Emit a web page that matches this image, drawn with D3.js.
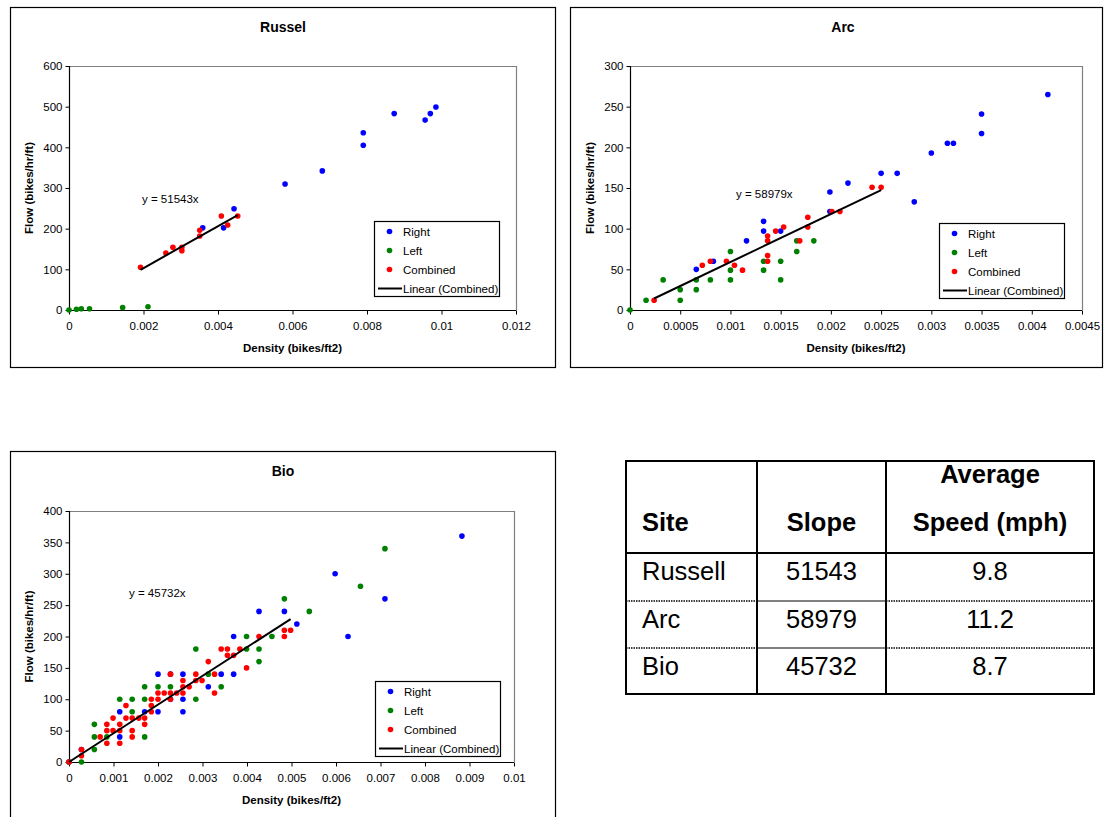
<!DOCTYPE html>
<html>
<head>
<meta charset="utf-8">
<style>
    body { margin: 0; background: white; }
    svg { display: block; font-family: "Liberation Sans", Arial, sans-serif; }
    .frame { fill: white; stroke: black; stroke-width: 1.2; }
    .title { font-size: 14px; font-weight: bold; text-anchor: middle; }
    .axtitle { font-size: 11.5px; font-weight: bold; text-anchor: middle; }
    .tick text { font-size: 11.5px; font-family: "Liberation Sans", Arial, sans-serif; }
    .legend text, .eq { font-size: 11.5px; }
    .tbl { font-size: 25.5px; }
</style>
</head>
<body>
<svg id="view" width="1105" height="817"></svg>

<script src="https://cdnjs.cloudflare.com/ajax/libs/d3/7.8.5/d3.min.js"></script>
<script>
    // ---- data ----
    const sites = ['Russel', 'Arc', 'Bio'];
    const slopes = [51543, 58979, 45732];
    const seriesNames = ['Right', 'Left', 'Combined'];
    const seriesColours = ['#0000ff', '#008000', '#ff0000'];

    const russelX = [0, 0.002, 0.004, 0.006, 0.008, 0.01, 0.012];
    const russelY = [0, 100, 200, 300, 400, 500, 600];
    const arcX = [0, 0.0005, 0.001, 0.0015, 0.002, 0.0025, 0.003, 0.0035, 0.004, 0.0045];
    const arcY = [0, 50, 100, 150, 200, 250, 300];
    const bioX = [0, 0.001, 0.002, 0.003, 0.004, 0.005, 0.006, 0.007, 0.008, 0.009, 0.01];
    const bioY = [0, 50, 100, 150, 200, 250, 300, 350, 400];

    const russelRight = [[0.00359,202],[0.00415,202],[0.00443,249],[0.0058,310],[0.0068,342],
        [0.0079,405],[0.0079,436],[0.00873,483],[0.00956,467],[0.0097,483],[0.00985,499]];
    const russelLeft = [[0,0],[0.0002,2],[0.00033,3],[0.00055,3],[0.00144,6],[0.00212,8]];
    const russelCombined = [[0.00192,105],[0.0026,140],[0.00279,154],[0.00303,154],[0.00303,146],
        [0.00351,196],[0.00351,182],[0.00409,231],[0.00426,209],[0.00453,231]];

    const arcRight = [[0.00066,50],[0.00083,60],[0.00116,85],[0.00133,109],[0.00133,97],[0.0015,97],
        [0.00199,145],[0.00199,121],[0.00217,156],[0.0025,168],[0.00266,168],[0.00283,133],
        [0.003,193],[0.00316,205],[0.00322,205],[0.0035,241],[0.0035,217],[0.00416,265]];
    const arcLeft = [[0,0],[0.00016,12],[0.00033,37],[0.0005,25],[0.0005,12],[0.00066,37],[0.00066,25],
        [0.0008,37],[0.001,72],[0.001,49],[0.001,37],[0.00133,60],[0.00133,49],[0.0015,60],
        [0.0015,37],[0.00166,85],[0.00166,72],[0.00183,85]];
    const arcCombined = [[0.00024,12],[0.00072,55],[0.0008,60],[0.00096,60],[0.00104,55],[0.00112,49],
        [0.00137,91],[0.00137,85],[0.00137,67],[0.00137,60],[0.00145,97],[0.00153,102],[0.00169,85],
        [0.00177,114],[0.00177,102],[0.00201,121],[0.00209,121],[0.00241,151],[0.0025,151]];

    const bioRight = [[0,0],[0.00028,20],[0.00114,80],[0.00114,40],[0.0017,80],[0.002,140],[0.002,80],
        [0.00228,140],[0.00228,100],[0.00256,140],[0.00256,100],[0.00256,80],[0.00313,120],
        [0.00342,140],[0.0037,200],[0.0037,140],[0.00427,240],[0.00484,240],[0.00512,220],
        [0.00598,300],[0.00627,200],[0.0071,260],[0.00883,360]];
    const bioLeft = [[0,0],[0.00028,0],[0.00057,60],[0.00057,40],[0.00057,20],[0.00085,40],[0.00114,100],
        [0.00142,100],[0.00142,80],[0.0017,120],[0.0017,100],[0.0017,40],[0.002,120],[0.00228,120],
        [0.00285,180],[0.00285,100],[0.00313,140],[0.00342,120],[0.00399,200],[0.00399,180],
        [0.00427,180],[0.00427,160],[0.00456,200],[0.00484,260],[0.0054,240],[0.00655,280],[0.0071,340]];
    const bioCombined = [[0,0],[0.00028,20],[0.00028,10],[0.0007,40],[0.00085,60],[0.00085,50],[0.00085,30],
        [0.00099,70],[0.00099,50],[0.00114,60],[0.00114,50],[0.00114,30],[0.00128,90],[0.00128,70],
        [0.00142,70],[0.00142,50],[0.00142,40],[0.00157,70],[0.0017,70],[0.0017,60],[0.00185,80],
        [0.00185,90],[0.00185,100],[0.002,100],[0.002,110],[0.00214,110],[0.00228,110],[0.00228,140],
        [0.00228,100],[0.00242,110],[0.00256,110],[0.00256,120],[0.00256,130],[0.0027,120],
        [0.00285,130],[0.00285,140],[0.00299,130],[0.00313,160],[0.00327,140],[0.00327,110],
        [0.00342,180],[0.00356,180],[0.00356,170],[0.0037,170],[0.00384,180],[0.00399,150],
        [0.00427,200],[0.00484,210],[0.00484,200],[0.00498,210]];

    const tableHead = ['Site', 'Slope', 'Average', 'Speed (mph)'];
    const tableSites = ['Russell', 'Arc', 'Bio'];
    const tableSlopes = ['51543', '58979', '45732'];
    const tableSpeeds = ['9.8', '11.2', '8.7'];

    const svg = d3.select('#view');
    svg.append('rect').attr('width', 1105).attr('height', 817).attr('fill', 'white');

    const fmt = v => String(+v.toFixed(4));

    function drawChart(c) {
        const g = svg.append('g');
        g.append('rect').attr('class', 'frame')
            .attr('x', c.frame[0] + 0.5).attr('y', c.frame[1] + 0.5)
            .attr('width', c.frame[2]).attr('height', c.frame[3]);

        const x = d3.scaleLinear().domain(d3.extent(c.xTicks)).range([c.plot[0], c.plot[2]]);
        const y = d3.scaleLinear().domain(d3.extent(c.yTicks)).range([c.plot[3], c.plot[1]]);

        // plot area border (grey top/right)
        g.append('path')
            .attr('d', `M${c.plot[0]},${c.plot[1] + 0.5}H${c.plot[2] + 0.5}V${c.plot[3]}`)
            .attr('fill', 'none').attr('stroke', '#808080').attr('stroke-width', 1.2);

        const yAx = g.append('g').attr('class', 'tick-axis')
            .attr('transform', `translate(${c.plot[0] + 0.5},0)`)
            .call(d3.axisLeft(y).tickValues(c.yTicks).tickFormat(d => d).tickSize(4).tickPadding(3));
        const xAx = g.append('g')
            .attr('transform', `translate(0,${c.plot[3] + 0.5})`)
            .call(d3.axisBottom(x).tickValues(c.xTicks).tickFormat(fmt).tickSize(4).tickPadding(7));
        [xAx, yAx].forEach(a => {
            a.select('.domain').attr('stroke', 'black').attr('stroke-width', 1.2);
            a.selectAll('.tick line').attr('stroke', 'black');
            a.selectAll('.tick text').attr('fill', 'black').style('font-size', '11.5px');
            a.attr('font-family', null).attr('font-size', null);
        });
        yAx.select('.domain').attr('d', `M0,${c.plot[3]}V${c.plot[1]}`);
        xAx.select('.domain').attr('d', `M${c.plot[0]},0H${c.plot[2]}`);

        // series
        c.series.forEach((pts, i) => {
            g.append('g').selectAll('circle').data(pts).join('circle')
                .attr('cx', d => x(d[0])).attr('cy', d => y(d[1]))
                .attr('r', 2.8).attr('fill', seriesColours[i]);
        });

        // linear trendline through origin over the combined range
        const ext = d3.extent(c.series[2], d => d[0]);
        g.append('line')
            .attr('x1', x(ext[0])).attr('y1', y(ext[0] * c.slope))
            .attr('x2', x(ext[1])).attr('y2', y(ext[1] * c.slope))
            .attr('stroke', 'black').attr('stroke-width', 2);
        g.append('text').attr('class', 'eq')
            .attr('x', c.eq[0]).attr('y', c.eq[1]).text(`y = ${c.slope}x`);

        // titles
        g.append('text').attr('class', 'title')
            .attr('x', c.titleX).attr('y', c.frame[1] + 25).text(c.name);
        g.append('text').attr('class', 'axtitle')
            .attr('x', (c.plot[0] + c.plot[2]) / 2).attr('y', c.plot[3] + 42)
            .text('Density (bikes/ft2)');
        g.append('text').attr('class', 'axtitle')
            .attr('transform', `translate(${c.plot[0] - 36},${(c.plot[1] + c.plot[3]) / 2}) rotate(-90)`)
            .text('Flow (bikes/hr/ft)');

        // legend
        const lg = g.append('g').attr('class', 'legend')
            .attr('transform', `translate(${c.legend[0]},${c.legend[1]})`);
        lg.append('rect').attr('x', 0.5).attr('y', 0.5).attr('width', 125).attr('height', 75)
            .attr('fill', 'white').attr('stroke', 'black').attr('stroke-width', 1.2);
        seriesNames.forEach((n, i) => {
            const yy = 10.5 + i * 19;
            lg.append('circle').attr('cx', 15.5).attr('cy', yy).attr('r', 2.8).attr('fill', seriesColours[i]);
            lg.append('text').attr('x', 29).attr('y', yy + 4).text(n);
        });
        lg.append('line').attr('x1', 4).attr('x2', 28).attr('y1', 67.5).attr('y2', 67.5)
            .attr('stroke', 'black').attr('stroke-width', 2);
        lg.append('text').attr('x', 29).attr('y', 71.5).text('Linear (Combined)');
    }

    drawChart({ name: sites[0], slope: slopes[0], frame: [10, 7, 545, 360], plot: [69, 66, 516, 310],
        xTicks: russelX, yTicks: russelY, titleX: 283, legend: [374, 221], eq: [142, 203],
        series: [russelRight, russelLeft, russelCombined] });
    drawChart({ name: sites[1], slope: slopes[1], frame: [570, 7, 532, 360], plot: [630, 66, 1082, 310],
        xTicks: arcX, yTicks: arcY, titleX: 843, legend: [939, 223], eq: [736, 198],
        series: [arcRight, arcLeft, arcCombined] });
    drawChart({ name: sites[2], slope: slopes[2], frame: [10, 451, 545, 380], plot: [69, 511, 514, 762],
        xTicks: bioX, yTicks: bioY, titleX: 283, legend: [375, 681], eq: [129, 597],
        series: [bioRight, bioLeft, bioCombined] });

    // ---- table ----
    const cols = [626, 757, 886, 1094];
    const rows = [461, 553, 601, 648, 694];
    const tg = svg.append('g').attr('class', 'tbl');
    const cx = [642, (cols[1] + cols[2]) / 2, (cols[2] + cols[3]) / 2];
    const anchors = ['start', 'middle', 'middle'];

    tg.append('text').attr('x', cx[0]).attr('y', 531).attr('font-weight', 'bold').text(tableHead[0]);
    tg.append('text').attr('x', cx[1]).attr('y', 531).attr('font-weight', 'bold')
        .attr('text-anchor', 'middle').text(tableHead[1]);
    tg.append('text').attr('x', cx[2]).attr('y', 483).attr('font-weight', 'bold')
        .attr('text-anchor', 'middle').text(tableHead[2]);
    tg.append('text').attr('x', cx[2]).attr('y', 531).attr('font-weight', 'bold')
        .attr('text-anchor', 'middle').text(tableHead[3]);

    tableSites.forEach((s, i) => {
        const by = rows[i + 1] + 27;
        [s, tableSlopes[i], tableSpeeds[i]].forEach((t, j) => {
            tg.append('text').attr('x', cx[j]).attr('y', by).attr('text-anchor', anchors[j]).text(t);
        });
    });

    // row separators: dotted in outer columns, solid grey in the middle one
    [rows[2], rows[3]].forEach(ry => {
        tg.append('line').attr('x1', cols[0]).attr('x2', cols[1]).attr('y1', ry).attr('y2', ry)
            .attr('stroke', 'black').attr('stroke-width', 1.5).attr('stroke-dasharray', '1.5,1');
        tg.append('line').attr('x1', cols[1]).attr('x2', cols[2]).attr('y1', ry).attr('y2', ry)
            .attr('stroke', '#808080').attr('stroke-width', 2);
        tg.append('line').attr('x1', cols[2]).attr('x2', cols[3]).attr('y1', ry).attr('y2', ry)
            .attr('stroke', 'black').attr('stroke-width', 1.5).attr('stroke-dasharray', '1.5,1');
    });
    tg.append('line').attr('x1', cols[0]).attr('x2', cols[3]).attr('y1', rows[1]).attr('y2', rows[1])
        .attr('stroke', 'black').attr('stroke-width', 2);
    cols.slice(1, 3).forEach(vx => {
        tg.append('line').attr('x1', vx).attr('x2', vx).attr('y1', rows[0]).attr('y2', rows[4])
            .attr('stroke', 'black').attr('stroke-width', 2);
    });
    tg.append('rect').attr('x', cols[0]).attr('y', rows[0])
        .attr('width', cols[3] - cols[0]).attr('height', rows[4] - rows[0])
        .attr('fill', 'none').attr('stroke', 'black').attr('stroke-width', 2);
</script>
</body>
</html>
